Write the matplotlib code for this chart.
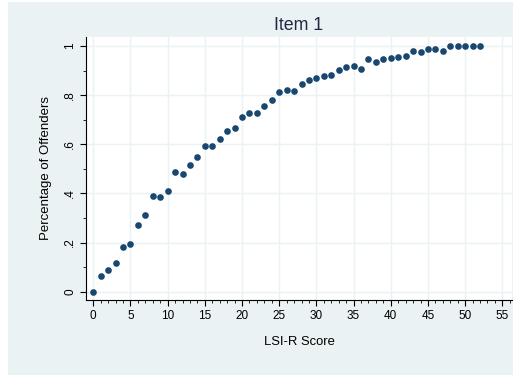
import matplotlib
matplotlib.use("Agg")
import matplotlib.pyplot as plt
from matplotlib.patches import Rectangle
from matplotlib.ticker import MultipleLocator

plt.rcParams['font.family'] = ['Liberation Sans', 'DejaVu Sans']

scores = list(range(0, 53))
pct = [0.0, 0.064, 0.09, 0.118, 0.18, 0.195, 0.273, 0.311, 0.391, 0.384,
       0.411, 0.486, 0.479, 0.516, 0.55, 0.592, 0.592, 0.62, 0.654, 0.668,
       0.71, 0.727, 0.727, 0.757, 0.779, 0.811, 0.822, 0.817, 0.844, 0.862,
       0.870, 0.878, 0.883, 0.901, 0.913, 0.919, 0.906, 0.947, 0.934, 0.948,
       0.95, 0.957, 0.959, 0.978, 0.974, 0.989, 0.987, 0.982, 1.0, 1.0,
       1.0, 1.0, 1.0]
xticks = list(range(0, 60, 5))
yticks = [0, 0.2, 0.4, 0.6, 0.8, 1.0]
yticklabels = ["0", ".2", ".4", ".6", ".8", "1"]

W, H = 517, 376
fig = plt.figure(figsize=(W / 100, H / 100), dpi=100)
fig.patch.set_facecolor('white')
bg = '#EAF2F3'
rect = Rectangle((8 / W, 1 - 375 / H), (513 - 8) / W, (375 - 2) / H,
                 transform=fig.transFigure, facecolor=bg, edgecolor='none')
rect.set_zorder(-10)
fig.add_artist(rect)

left, right, top, bottom = 86, 512, 37, 300
ax = fig.add_axes([left / W, 1 - bottom / H, (right - left) / W, (bottom - top) / H])
ax.set_zorder(1)
ax.set_facecolor('white')
ax.scatter(scores, pct, s=23, color='#1A476F', zorder=3, linewidths=0)

ax.set_xlim(-0.98, 56.3)
ax.set_ylim(-0.034, 1.037)
ax.set_xticks(xticks)
ax.set_yticks(yticks)
ax.set_yticklabels(yticklabels, rotation=90, va='center')
ax.xaxis.set_minor_locator(MultipleLocator(1))
ax.yaxis.set_minor_locator(MultipleLocator(0.1))
ax.grid(True, which='major', color='#EAF2F3', linewidth=1.0, zorder=0)
ax.set_axisbelow(True)
for s in ['top', 'right']:
    ax.spines[s].set_visible(False)
for s in ['left', 'bottom']:
    ax.spines[s].set_color('black')
    ax.spines[s].set_linewidth(0.8)
ax.tick_params(which='major', length=4.2, width=0.8, labelsize=8.5, colors='black', pad=3)
ax.tick_params(which='minor', length=2.4, width=0.6)

ax.set_title("Item 1", fontsize=12.8, color='#1E2A44', pad=5)
ax.set_xlabel("LSI-R Score", fontsize=9.4, labelpad=10)
ax.set_ylabel("Percentage of Offenders", fontsize=9.5, labelpad=9)

fig.savefig("out.png", dpi=100, facecolor='white')
